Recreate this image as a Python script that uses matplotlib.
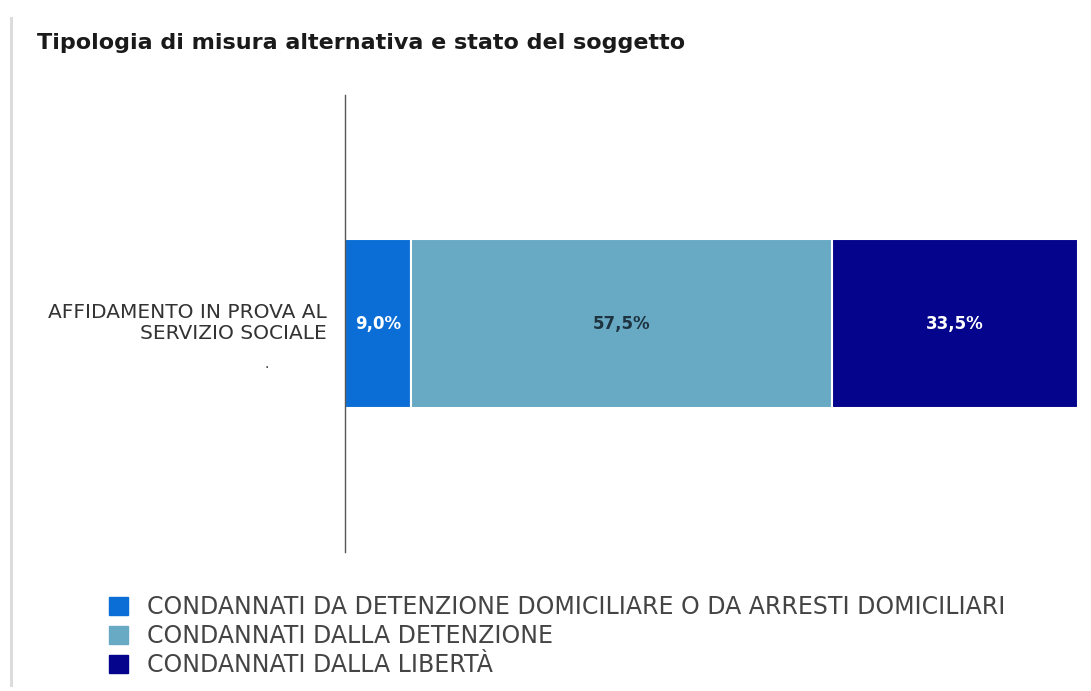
import numpy as np
import matplotlib
matplotlib.use("Agg")
from matplotlib import pyplot as plt
from matplotlib.lines import Line2D
from matplotlib.patches import Patch

# data
category = "AFFIDAMENTO IN PROVA AL\nSERVIZIO SOCIALE"
series   = ["CONDANNATI DA DETENZIONE DOMICILIARE O DA ARRESTI DOMICILIARI",
            "CONDANNATI DALLA DETENZIONE",
            "CONDANNATI DALLA LIBERTÀ"]
values   = [9.0, 57.5, 33.5]
labels   = ["9,0%", "57,5%", "33,5%"]

colors     = ["#0a6ed6", "#68a9c3", "#04048c"]
txt_colors = ["white", "#1e3340", "white"]

W, H = 1091, 691
fig = plt.figure(figsize=(W/100, H/100), dpi=100)
fig.patch.set_facecolor('white')

# card border on the left
fig.add_artist(Line2D([11/W, 11/W], [1 - 685/H, 1 - 18/H],
                      color='#dcdcdc', lw=2.2, transform=fig.transFigure))

fig.text(37/W, 1 - 43/H, "Tipologia di misura alternativa e stato del soggetto",
         fontsize=16, fontweight='bold', color='#1a1a1a', va='center', ha='left')

ax = fig.add_axes([345/W, 1 - 552/H, 733/W, 457/H])
left = 0.0
for v, c, lab, tc in zip(values, colors, labels, txt_colors):
    ax.barh(0, v, left=left, height=0.368, color=c, edgecolor='white', linewidth=1.5)
    ax.text(left + v/2, 0, lab, ha='center', va='center', fontsize=12,
            fontweight='bold', color=tc)
    left += v

ax.set_xlim(0, 100)
ax.set_ylim(-0.5, 0.5)
ax.set_xticks([])
ax.set_yticks([])
for s in ['top', 'right', 'bottom']:
    ax.spines[s].set_visible(False)
ax.spines['left'].set_color('#555555')
ax.spines['left'].set_linewidth(1.0)

fig.text(327/W, 1 - 323/H, category, ha='right', va='center', fontsize=14.5,
         color='#333333', linespacing=1.15)
fig.text(267/W, 1 - 364/H, ".", ha='center', va='center', fontsize=10, color='#333333')

handles = [Patch(facecolor=c, edgecolor=c) for c in colors]
fig.legend(handles, series, loc='upper left', bbox_to_anchor=(100/W, 1 - 586/H),
           frameon=False, fontsize=17, labelcolor='#444444', handlelength=0.8,
           handleheight=0.8, handletextpad=0.8, labelspacing=0.2, borderaxespad=0)

fig.savefig("out.png", dpi=100)
